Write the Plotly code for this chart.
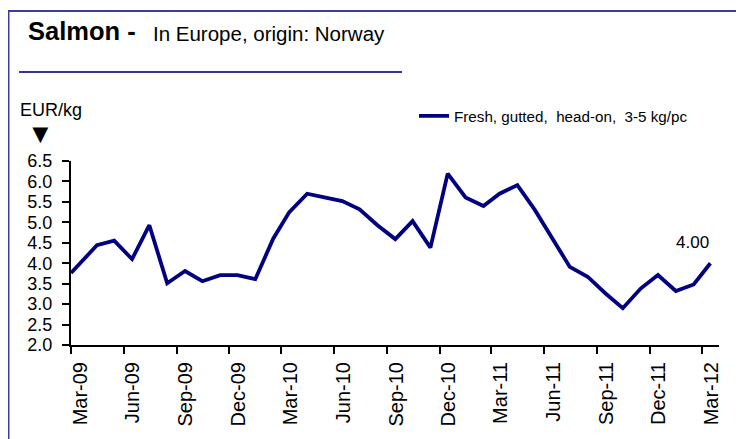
import plotly.graph_objects as go

# ---- data ----
dates = ["2009-03-01",
         "2009-04-15", "2009-05-15", "2009-06-15", "2009-07-15", "2009-08-15", "2009-09-15",
         "2009-10-15", "2009-11-15", "2009-12-15", "2010-01-15", "2010-02-15", "2010-03-15",
         "2010-04-15", "2010-05-15", "2010-06-15", "2010-07-15", "2010-08-15", "2010-09-15",
         "2010-10-15", "2010-11-15", "2010-12-15", "2011-01-15", "2011-02-15", "2011-03-15",
         "2011-04-15", "2011-05-15", "2011-06-15", "2011-07-15", "2011-08-15", "2011-09-15",
         "2011-10-15", "2011-11-15", "2011-12-15", "2012-01-15", "2012-02-15", "2012-03-15"]
prices = [3.76,
          4.44, 4.55, 4.10, 4.93, 3.51, 3.81,
          3.56, 3.71, 3.71, 3.61, 4.60, 5.25,
          5.70, 5.61, 5.52, 5.32, 4.93, 4.59,
          5.03, 4.38, 6.19, 5.61, 5.40, 5.70,
          5.91, 5.31, 4.60, 3.91, 3.67, 3.26,
          2.90, 3.38, 3.71, 3.32, 3.48, 4.00]
series_name = "Fresh, gutted,\u00a0 head-on,\u00a0 3-5 kg/pc"
title_bold = "Salmon -"
title_sub = "In Europe, origin: Norway"
unit_label = "EUR/kg"

# page body has an 8px margin, so the figure is drawn 8px in from the window edge
OFF = 8
W, H = 744 - OFF, 439 - OFF
PLOT_X0, PLOT_X1, PLOT_Y0, PLOT_Y1 = 71, 719, 161, 345   # screen pixels
L, R = PLOT_X0 - OFF, (744 - PLOT_X1)
T, B = PLOT_Y0 - OFF, (439 - PLOT_Y1)
PW, PH = PLOT_X1 - PLOT_X0, PLOT_Y1 - PLOT_Y0

def px(x):
    return (x - PLOT_X0) / PW

def py(y):
    return (PLOT_Y1 - y) / PH

FONT = "Liberation Sans, Arial, sans-serif"
NAVY = "#000080"
FRAME = "#3c3ca0"

fig = go.Figure()
fig.add_trace(go.Scatter(x=dates, y=prices, mode="lines", name=series_name,
                         line=dict(color=NAVY, width=3.8), showlegend=True))

annotations = [
    dict(text=f"<b>{title_bold}</b>", x=px(26), y=py(31), xref="paper", yref="paper",
         xanchor="left", yanchor="middle", showarrow=False,
         font=dict(family=FONT, size=25.5, color="black")),
    dict(text=title_sub, x=px(151), y=py(34), xref="paper", yref="paper",
         xanchor="left", yanchor="middle", showarrow=False,
         font=dict(family=FONT, size=20.5, color="black")),
    dict(text=unit_label, x=px(18), y=py(110), xref="paper", yref="paper",
         xanchor="left", yanchor="middle", showarrow=False,
         font=dict(family=FONT, size=18, color="black")),
    dict(text="\u25BC", x=px(40), y=py(134), xref="paper", yref="paper",
         xanchor="center", yanchor="middle", showarrow=False,
         font=dict(family=FONT, size=27, color="black")),
    dict(text=f"{prices[-1]:.2f}", x=dates[-1], y=prices[-1], xref="x", yref="y",
         xanchor="right", yanchor="bottom", yshift=9, xshift=1, showarrow=False,
         font=dict(family=FONT, size=17, color="black")),
]

shapes = [
    # outer frame (top and left)
    dict(type="line", xref="paper", yref="paper", x0=px(8), x1=px(760), y0=py(11), y1=py(11),
         line=dict(color=FRAME, width=2)),
    dict(type="line", xref="paper", yref="paper", x0=px(8.5), x1=px(8.5), y0=py(11), y1=py(460),
         line=dict(color=FRAME, width=2)),
    # title underline
    dict(type="line", xref="paper", yref="paper", x0=px(19), x1=px(402), y0=py(72), y1=py(72),
         line=dict(color="#333399", width=2)),
]

fig.update_layout(
    width=W, height=H, autosize=False,
    margin=dict(l=L, r=R, t=T, b=B, pad=0),
    paper_bgcolor="white", plot_bgcolor="white",
    font=dict(family=FONT, color="black"),
    showlegend=True,
    legend=dict(x=px(414), y=py(116), xanchor="left", yanchor="middle",
                bgcolor="rgba(0,0,0,0)", borderwidth=0,
                font=dict(family=FONT, size=15.2, color="black")),
    annotations=annotations,
    shapes=shapes,
)

fig.update_xaxes(type="date", range=["2009-03-01", "2012-03-30"],
                 tick0="2009-03-01", dtick="M3", tickformat="%b-%y", tickangle=-90,
                 ticks="outside", ticklen=7, tickwidth=1.5, tickcolor="black",
                 showline=True, linewidth=2, linecolor="black",
                 showgrid=False, zeroline=False, ticklabelshift=9,
                 tickfont=dict(family=FONT, size=20, color="black"))
fig.update_yaxes(range=[2.0, 6.5], tick0=2.0, dtick=0.5, tickformat=".1f",
                 ticks="outside", ticklen=7, tickwidth=1.5, tickcolor="black",
                 showline=True, linewidth=2, linecolor="black",
                 showgrid=False, zeroline=False, ticklabelstandoff=6,
                 tickfont=dict(family=FONT, size=18, color="black"))

fig.write_html("out.html")
